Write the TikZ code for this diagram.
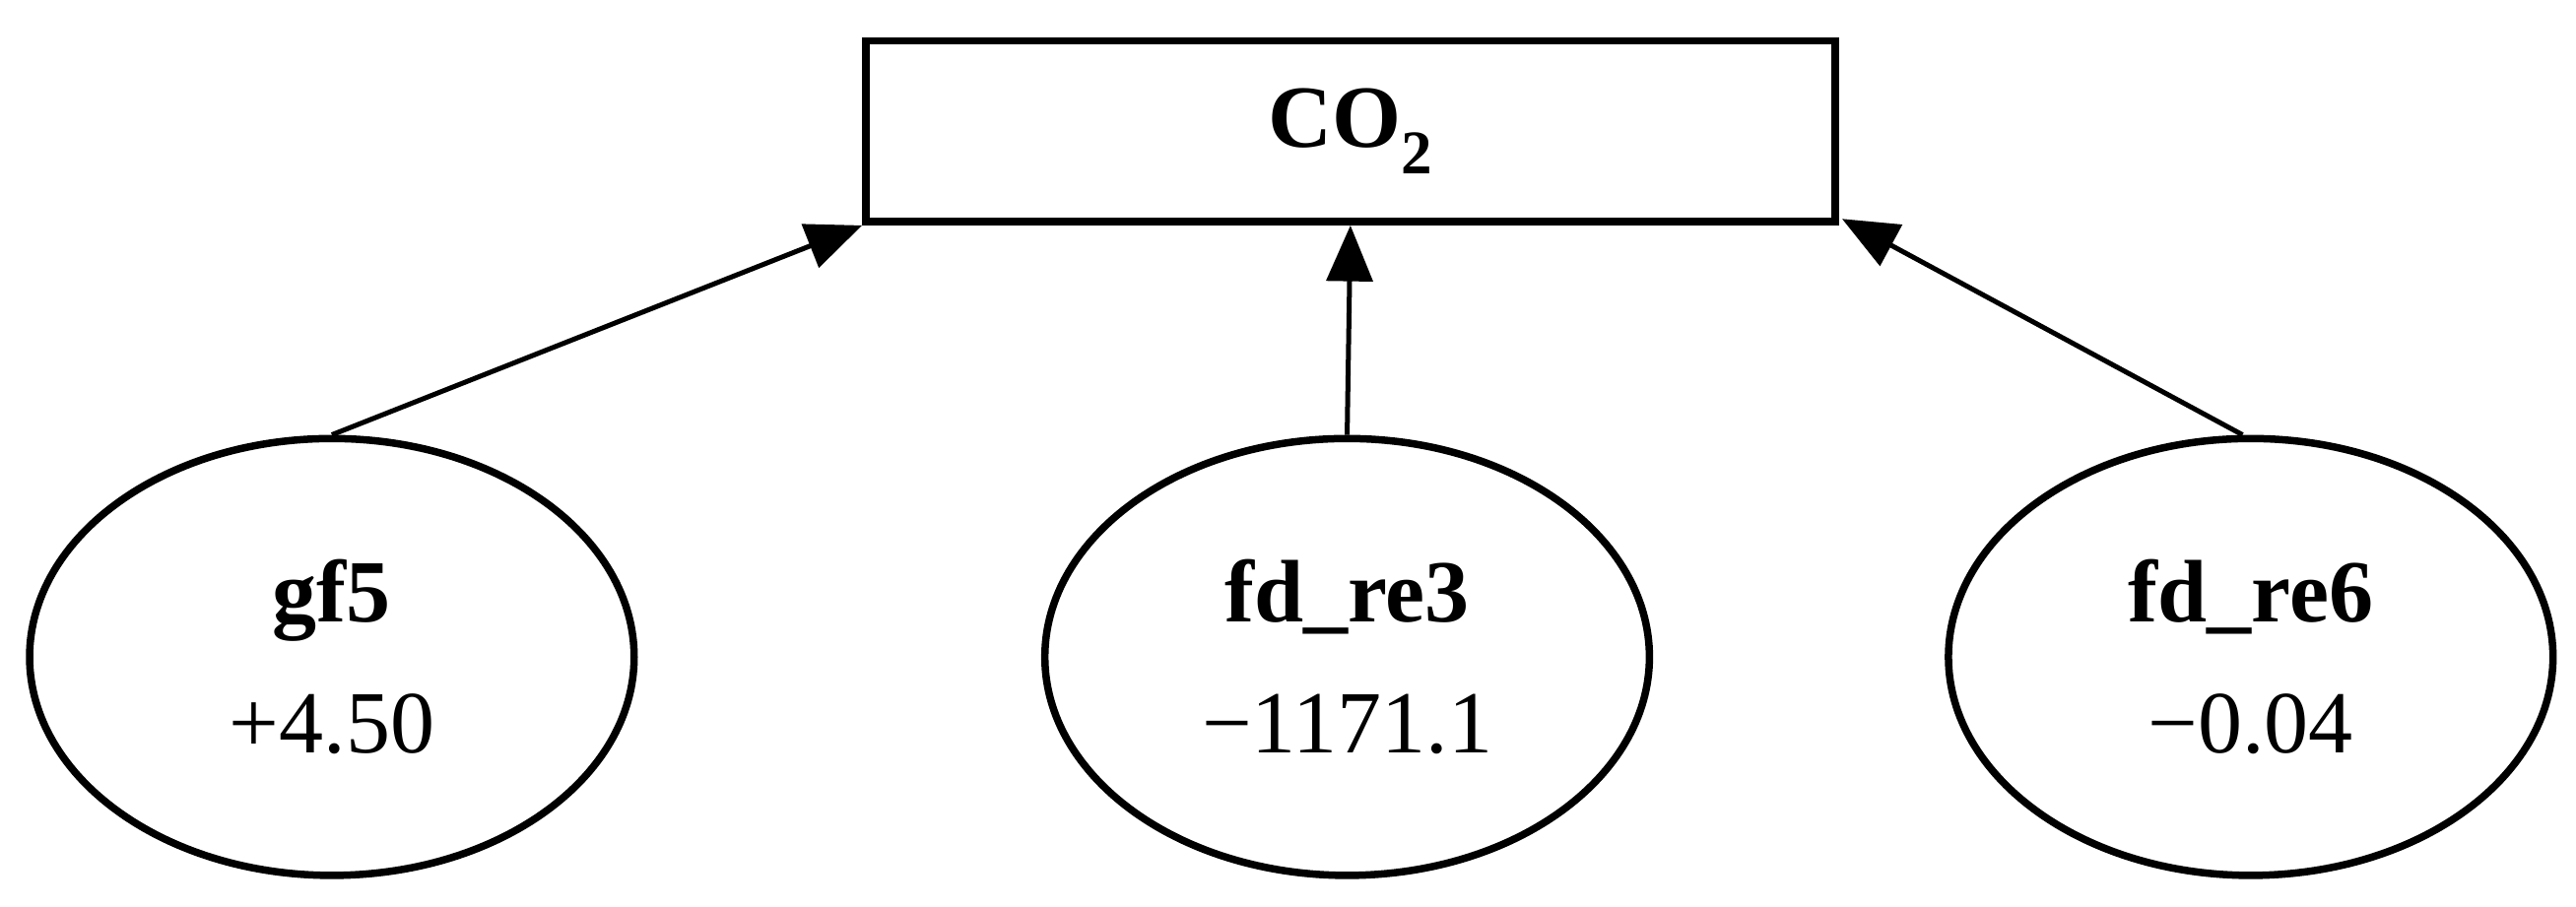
\documentclass[tikz,border=0pt]{standalone}
\usepackage{fontspec}
\setmainfont{Liberation Serif}
\usetikzlibrary{arrows.meta,shapes.geometric}
\begin{document}
\begin{tikzpicture}[x=1pt,y=-1pt,
  ell/.style={draw,line width=4.5pt,ellipse,inner sep=0pt,minimum width=368pt,minimum height=266pt,align=center,font=\fontsize{54}{80}\selectfont},
  box/.style={draw,line width=4.5pt,minimum width=590pt,minimum height=110pt,font=\fontsize{54}{60}\selectfont\bfseries},
  arr/.style={line width=3pt,-{Triangle[length=34pt,width=28pt]}}]
\useasboundingbox (0,0) rectangle (1568,552);
\node[box] (co2) at (822,80) {CO\textsubscript{2}};
\node[ell] (a) at (202,400) {\textbf{gf5}\\+4.50};
\node[ell] (b) at (820,400) {\textbf{fd\_re3}\\−1171.1};
\node[ell] (c) at (1370,400) {\textbf{fd\_re6}\\−0.04};
\draw[arr] (a.north) -- (co2.south west);
\draw[arr] (b.north) -- (co2.south);
\draw[arr] ([xshift=-5pt]c.north) -- ([xshift=2pt,yshift=4pt]co2.south east);
\end{tikzpicture}
\end{document}
